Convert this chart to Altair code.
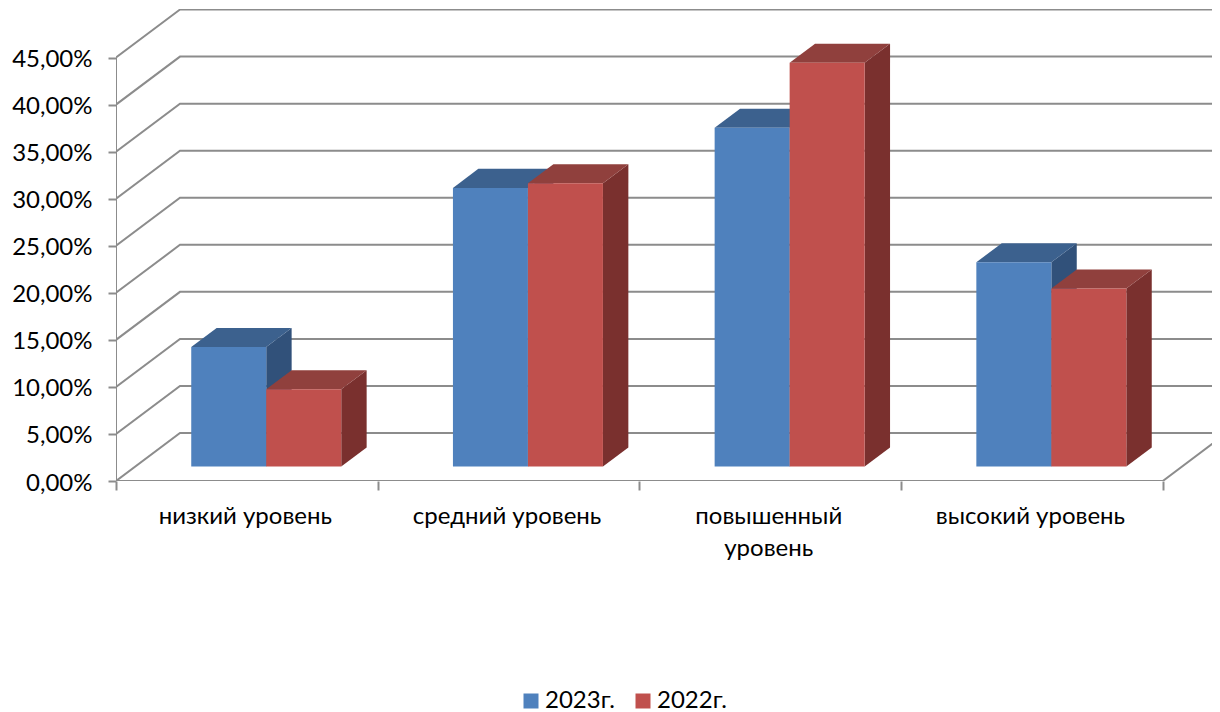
import altair as alt
import pandas as pd

categories = ["низкий уровень", "средний уровень", "повышенный уровень", "высокий уровень"]
label_lines = [["низкий уровень"], ["средний уровень"], ["повышенный", "уровень"], ["высокий уровень"]]
series_names = ["2023г.", "2022г."]
values_2023 = [12.7, 29.6, 36.0, 21.7]
values_2022 = [8.2, 30.1, 42.9, 18.9]
y_ticks = [0, 5, 10, 15, 20, 25, 30, 35, 40, 45]

FONT = "Lato"
FONT_SIZE = 24
GRID = "#8C8C8C"
FRONT = ["#4F81BD", "#C0504D"]
TOP = ["#3C618E", "#90403D"]
SIDE = ["#31517A", "#7A302E"]

W, H = 1096, 472
X_MAX = W / 261.7
Y_MAX = H / 9.41
BACK_X = 64 / 261.7
BACK_Y = 48 / 9.41
D_FRONT = 0.303
D_BACK = 0.70
BAR_W = 75 / 261.7

xs = alt.Scale(domain=[0, X_MAX], nice=False, zero=False)
ys = alt.Scale(domain=[0, Y_MAX], nice=False, zero=False)

# frame: left wall / back wall gridlines, axis line, floor edge
lines = []
for v in y_ticks:
    for i, (x, y) in enumerate([(0, v), (BACK_X, v + BACK_Y), (X_MAX, v + BACK_Y)]):
        lines.append({"id": f"g{v}", "o": i, "x": x, "y": y})
for i, (x, y) in enumerate([(0, 45), (0, 0), (4, 0), (4 + BACK_X, BACK_Y)]):
    lines.append({"id": "frame", "o": i, "x": x, "y": y})

fronts, sides, tops = [], [], []
for c in range(4):
    for s, vals in enumerate([values_2023, values_2022]):
        v = vals[c]
        xl = c + 0.5 + (s - 1) * BAR_W
        xr = xl + BAR_W
        key = f"{c}-{s}"
        name = series_names[s]
        fx, fy = D_FRONT * BACK_X, D_FRONT * BACK_Y
        bx, by = D_BACK * BACK_X, D_BACK * BACK_Y
        fronts.append({"series": name, "x": xl + fx, "x2": xr + fx, "y": fy, "y2": v + fy})
        sides.append({"key": key, "tone": SIDE[s], "x": xr + fx, "y": fy, "y2": v + fy})
        sides.append({"key": key, "tone": SIDE[s], "x": xr + bx, "y": by, "y2": v + by})
        tops.append({"key": key, "tone": TOP[s], "y": v + fy, "x": xl + fx, "x2": xr + fx})
        tops.append({"key": key, "tone": TOP[s], "y": v + by, "x": xl + bx, "x2": xr + bx})

label_map = "{" + ",".join(f"'{i + 0.5}':{l!r}" for i, l in enumerate(label_lines)) + "}"
x_axis = alt.Axis(
    values=[0, 0.5, 1, 1.5, 2, 2.5, 3, 3.5, 4],
    title=None, domain=False, grid=False,
    tickColor=GRID, tickWidth=2, tickSize=9,
    tickOpacity=alt.expr("datum.value % 1 == 0 ? 1 : 0"),
    labelExpr=f"({label_map})[toString(datum.value)] || ''",
    labelFont=FONT, labelFontSize=FONT_SIZE, labelColor="#000000", labelLimit=400,
    labelPadding=14, labelOverlap=False, labelFlush=False, labelBound=False,
    labelAngle=0, labelLineHeight=32, labelBaseline="top", labelOffset=-2,
)
y_axis = alt.Axis(
    values=y_ticks, title=None, domain=False, grid=False,
    tickColor=GRID, tickWidth=2, tickSize=8,
    labelExpr="replace(format(datum.value, '.2f'), '.', ',') + '%'",
    labelFont=FONT, labelFontSize=FONT_SIZE, labelColor="#000000",
    labelPadding=16, labelOverlap=False, labelBound=False, labelFlush=False, labelOffset=2,
)
X = alt.X("x:Q", scale=xs, axis=x_axis)
Y = alt.Y("y:Q", scale=ys, axis=y_axis)

frame = alt.Chart(pd.DataFrame(lines)).mark_line(stroke=GRID, strokeWidth=2, clip=True).encode(
    x=X, y=Y, detail="id:N", order="o:Q",
)
side_layer = alt.Chart(pd.DataFrame(sides)).mark_area(orient="vertical", opacity=1).encode(
    x=X, y=Y, y2="y2:Q", detail="key:N",
    fill=alt.Fill("tone:N", scale=None, legend=None),
)
top_layer = alt.Chart(pd.DataFrame(tops)).mark_area(orient="horizontal", opacity=1).encode(
    y=Y, x=X, x2="x2:Q", detail="key:N",
    fill=alt.Fill("tone:N", scale=None, legend=None),
)
front_layer = alt.Chart(pd.DataFrame(fronts)).mark_rect(opacity=1).encode(
    x=X, x2="x2:Q", y=Y, y2="y2:Q",
    color=alt.Color(
        "series:N",
        scale=alt.Scale(domain=series_names, range=FRONT),
        sort=series_names,
        legend=alt.Legend(
            orient="none", legendX=403, legendY=680, title=None, columns=2,
            symbolType="square", symbolSize=225, symbolStrokeWidth=0, symbolOpacity=1,
            labelFont=FONT, labelFontSize=FONT_SIZE, labelColor="#000000",
            columnPadding=16, labelOffset=2,
        ),
    ),
)

chart = (
    alt.layer(frame, side_layer, top_layer, front_layer)
    .resolve_scale(fill="independent", color="independent")
    .properties(
        width=W, height=H,
        padding={"left": 108, "top": 1, "right": 0, "bottom": 231},
        autosize=alt.AutoSizeParams(type="none"),
    )
    .configure_view(stroke=None)
)
chart.save("out.html", embed_options={"renderer": "svg", "actions": False})
